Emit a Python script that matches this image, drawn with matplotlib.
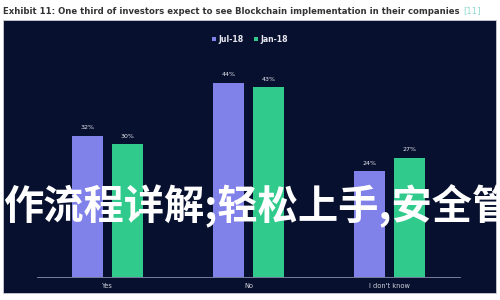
import numpy as np
import matplotlib.pyplot as plt
from matplotlib.patches import Rectangle

# Data
categories = ["Yes", "No", "I don't know"]
jul_18 = [32, 44, 24]
jan_18 = [30, 43, 27]
series_names = ["Jul-18", "Jan-18"]

title = "Exhibit 11: One third of investors expect to see Blockchain implementation in their companies"
ref_tag = "[11]"
watermark = "作流程详解;轻松上手,安全管"

BG = "#07102e"
PURPLE = "#8181ea"
GREEN = "#30cb8c"

fig = plt.figure(figsize=(5, 3), dpi=100)
fig.patch.set_facecolor("white")

# dark panel behind the chart
fig.patches.append(Rectangle((3 / 500, 7 / 300), 493 / 500, 273 / 300,
                             transform=fig.transFigure, facecolor=BG,
                             edgecolor="#c9ccd6", linewidth=0.6, zorder=-5))

t = fig.text(3 / 500, 1 - 11 / 300, title, fontsize=6.1, fontweight="bold",
             color="#333333", va="center", ha="left")
fig.canvas.draw()
bb = t.get_window_extent()
fig.text(bb.x1 / 500 + 0.007, 1 - 11 / 300, ref_tag, fontsize=6.1,
         color="#8fd9cc", va="center", ha="left")

ax = fig.add_axes([37 / 500, 23 / 300, 423 / 500, 221 / 300])
ax.set_facecolor("none")
ax.set_zorder(1)
x = np.arange(len(categories))
w = 0.22
off = 0.142
b1 = ax.bar(x - off, jul_18, w, color=PURPLE, label=series_names[0], zorder=2)
b2 = ax.bar(x + off, jan_18, w, color=GREEN, label=series_names[1], zorder=2)
for bars, vals in ((b1, jul_18), (b2, jan_18)):
    for r, v in zip(bars, vals):
        ax.text(r.get_x() + r.get_width() / 2, v + 1.2, f"{v}%", ha="center",
                va="bottom", fontsize=4.5, color="#e8e8f0")

ax.set_xlim(-0.5, 2.5)
ax.set_ylim(0, 50)
ax.set_yticks([])
ax.set_xticks(x)
ax.set_xticklabels(categories, fontsize=4.8, color="#d0d3dc")
ax.tick_params(axis="x", length=0, pad=4)
for s in ("top", "right", "left"):
    ax.spines[s].set_visible(False)
ax.spines["bottom"].set_color("#8a90b0")
ax.spines["bottom"].set_linewidth(0.6)

leg = fig.legend(handles=[b1, b2], loc="center", bbox_to_anchor=(250 / 500, 1 - 39 / 300),
                 ncol=2, frameon=False, fontsize=5.6, handlelength=0.5, handleheight=0.5,
                 handletextpad=0.35, columnspacing=1.3, labelcolor="#e8e8f0")
for txt in leg.get_texts():
    txt.set_fontweight("bold")

# overlaid watermark text
wm = fig.text(3 / 500, 1 - 206 / 300, watermark, fontsize=29, fontweight="bold",
              color="white", va="center", ha="left",
              family=["Noto Sans CJK SC", "DejaVu Sans"], zorder=10)

fig.savefig("out.png", dpi=100, facecolor=fig.get_facecolor())
